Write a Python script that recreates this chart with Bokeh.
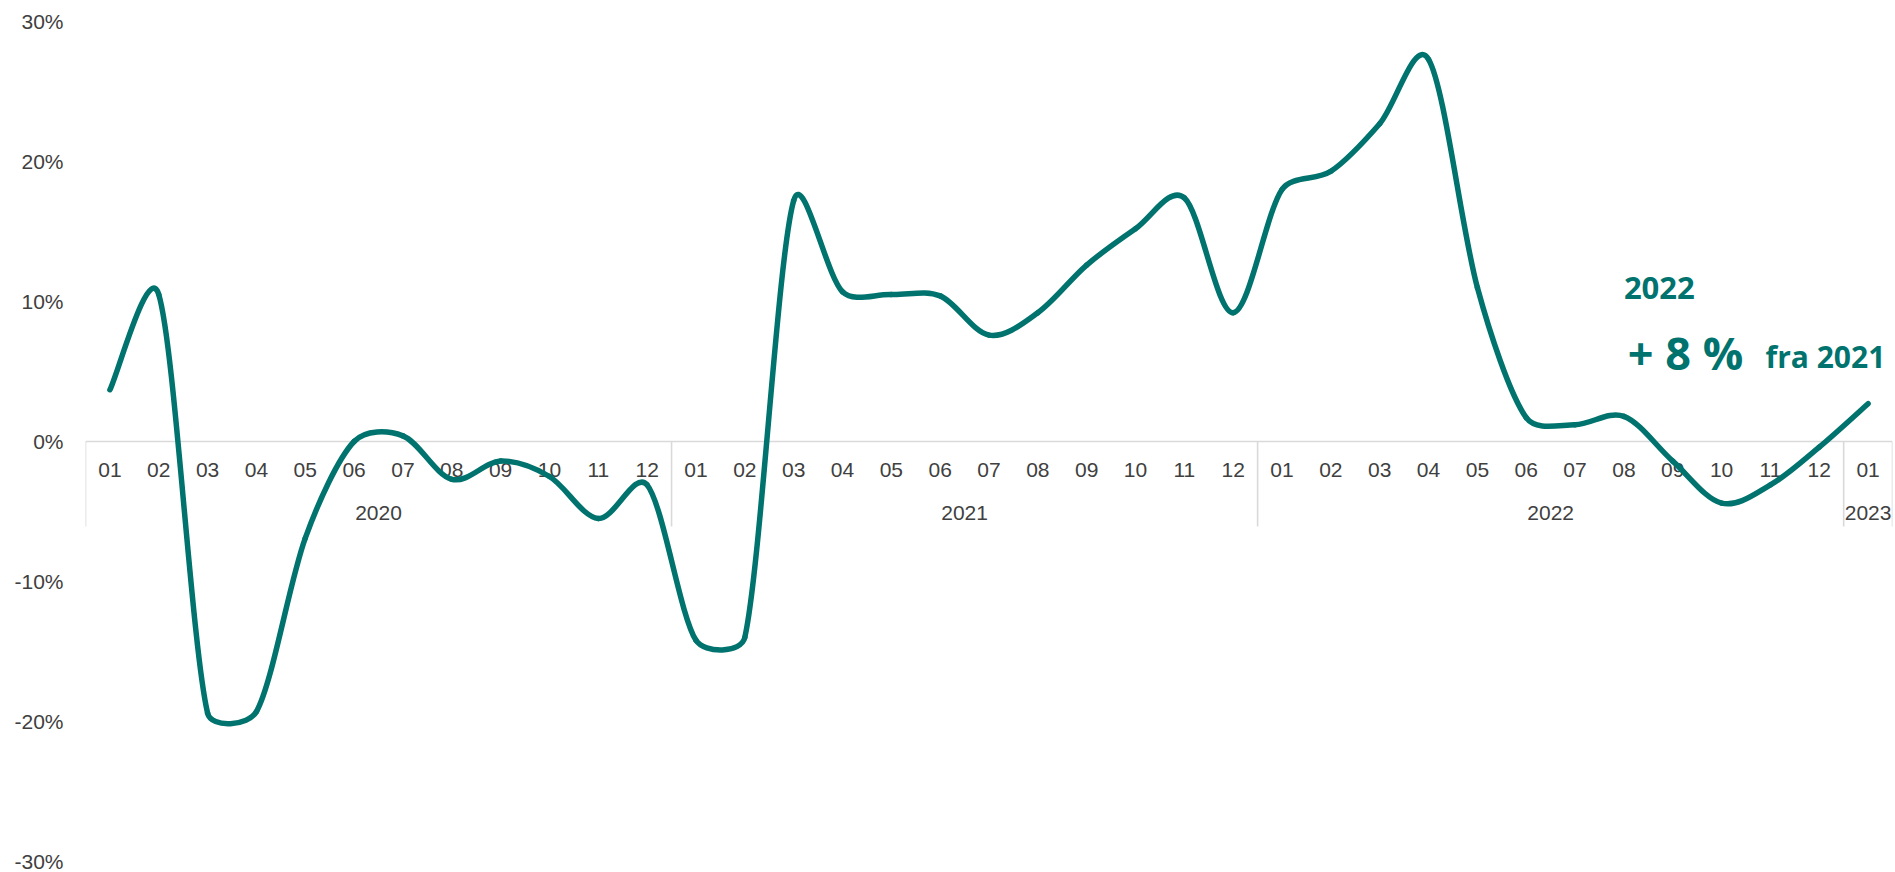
import math
import numpy as np
from bokeh.plotting import figure
from bokeh.models import Range1d, FixedTicker
from bokeh.core.properties import value
from bokeh.embed import file_html
from bokeh.resources import INLINE

# ---------------- data ----------------
years = ["2020", "2021", "2022", "2023"]
month_labels = ["01", "02", "03", "04", "05", "06", "07", "08", "09", "10", "11", "12"]
months_in_year = [12, 12, 12, 1]
change_pct = [3.7, 10.5, -19.4, -19.3, -6.9, 0.0, 0.4, -2.7, -1.4, -2.5, -5.5, -3.1,
              -14.2, -14.0, 17.2, 10.7, 10.5, 10.4, 7.6, 9.2, 12.6, 15.2, 17.4, 9.2,
              18.0, 19.3, 22.7, 27.3, 11.0, 1.7, 1.2, 1.8, -1.4, -4.4, -3.1, -0.4, 2.7]
y_ticks = [-30, -20, -10, 0, 10, 20, 30]
y_tick_labels = ["-30%", "-20%", "-10%", "0%", "10%", "20%", "30%"]
note_year = "2022"
note_change = "+ 8 %"
note_ref = "fra 2021"

# ---------------- layout ----------------
W, H = 1895, 872
BL, BR, BT, BB = 85, 3, 21, 11
TEAL = "#00736E"
GREY_TXT = "#404040"
AXIS_GREY = "#D9D9D9"

n = len(change_pct)
n_cat = sum(months_in_year)
sx = (W - BL - BR) / n_cat
sy = (H - BT - BB) / (y_ticks[-1] - y_ticks[0])

p = figure(width=W, height=H, output_backend="svg", toolbar_location=None,
           x_range=Range1d(0, n_cat), y_range=Range1d(y_ticks[0], y_ticks[-1]),
           min_border_left=BL, min_border_right=BR, min_border_top=BT, min_border_bottom=BB)
p.outline_line_color = None
p.xgrid.visible = False
p.ygrid.visible = False
p.xaxis.visible = False
p.background_fill_color = "white"
p.border_fill_color = "white"

ya = p.yaxis[0]
ya.ticker = FixedTicker(ticks=y_ticks)
ya.major_label_overrides = {t: l for t, l in zip(y_ticks, y_tick_labels)}
ya.axis_line_color = None
ya.major_tick_line_color = None
ya.minor_tick_line_color = None
ya.major_tick_out = 0
ya.major_tick_in = 0
ya.major_label_standoff = 22
ya.major_label_text_font = "Liberation Sans"
ya.major_label_text_font_size = "21px"
ya.major_label_text_color = GREY_TXT

# category axis (drawn at 0)
bounds = [0]
for m in months_in_year:
    bounds.append(bounds[-1] + m)
p.segment(x0=[0], y0=[0], x1=[n_cat], y1=[0], line_color=AXIS_GREY, line_width=1.6)
sep_bottom = -6.07
p.segment(x0=bounds, y0=[0] * len(bounds), x1=bounds, y1=[sep_bottom] * len(bounds),
          line_color=AXIS_GREY, line_width=1.6)

cat_x, cat_txt = [], []
yr_x = []
k = 0
for yi, m in enumerate(months_in_year):
    for j in range(m):
        cat_x.append(k + 0.5)
        cat_txt.append(month_labels[j])
        k += 1
    yr_x.append((bounds[yi] + bounds[yi + 1]) / 2)

p.text(x=cat_x, y=[-2.07] * len(cat_x), text=cat_txt, text_align="center",
       text_baseline="middle", text_font=value("Liberation Sans"),
       text_font_size=value("21px"), text_color=GREY_TXT)
p.text(x=yr_x, y=[-5.14] * len(yr_x), text=years, text_align="center",
       text_baseline="middle", text_font=value("Liberation Sans"),
       text_font_size=value("21px"), text_color=GREY_TXT)

# smoothed line (Excel-like bezier)
xs = np.arange(n) + 0.5
ys = np.array(change_pct, dtype=float)
px = xs * sx
py = ys * sy


def arm(i):
    a = max(i - 1, 0)
    b = min(i + 1, n - 1)
    return (px[b] - px[a]) / 6.0, (py[b] - py[a]) / 6.0


x0s, y0s, x1s, y1s, cx0s, cy0s, cx1s, cy1s = [], [], [], [], [], [], [], []
for i in range(n - 1):
    seg = math.hypot(px[i + 1] - px[i], py[i + 1] - py[i])
    cap = seg / 3.0
    ax, ay = arm(i)
    L = math.hypot(ax, ay)
    s = min(1.0, cap / L) if L > 0 else 0.0
    bx, by = arm(i + 1)
    L2 = math.hypot(bx, by)
    s2 = min(1.0, cap / L2) if L2 > 0 else 0.0
    x0s.append(xs[i]); y0s.append(ys[i])
    x1s.append(xs[i + 1]); y1s.append(ys[i + 1])
    cx0s.append((px[i] + ax * s) / sx); cy0s.append((py[i] + ay * s) / sy)
    cx1s.append((px[i + 1] - bx * s2) / sx); cy1s.append((py[i + 1] - by * s2) / sy)

p.bezier(x0=x0s, y0=y0s, x1=x1s, y1=y1s, cx0=cx0s, cy0=cy0s, cx1=cx1s, cy1=cy1s,
         line_color=TEAL, line_width=5.5, line_cap="round")

# annotation
p.text(x=[31.50], y=[10.93], text=[note_year], text_align="left", text_baseline="alphabetic",
       text_font=value("Open Sans"), text_font_style="bold", text_font_size=value("31px"),
       text_color=TEAL)
p.text(x=[31.58], y=[6.36], text=[note_change], text_align="left", text_baseline="alphabetic",
       text_font=value("Open Sans"), text_font_style="bold", text_font_size=value("45px"),
       text_color=TEAL)
p.text(x=[34.40], y=[6.08], text=[note_ref], text_align="left", text_baseline="alphabetic",
       text_font=value("Open Sans"), text_font_style="bold", text_font_size=value("30px"),
       text_color=TEAL)

open("out.html", "w").write(file_html(p, INLINE))
